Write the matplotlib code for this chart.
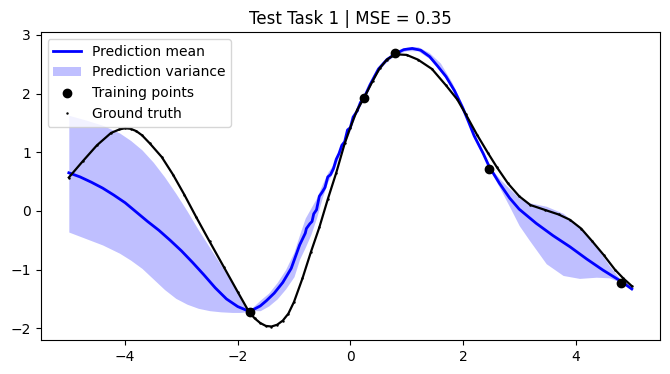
import numpy as np
import matplotlib
matplotlib.use('Agg')
import matplotlib.pyplot as plt

# ground truth curve
gt_x = [-5.0, -4.75, -4.5, -4.25, -4.1, -4.0, -3.9, -3.8, -3.7, -3.56, -3.35, -3.15, -2.95,
        -2.74, -2.5, -2.25, -2.0, -1.8, -1.7, -1.6, -1.5, -1.4, -1.3, -1.2, -1.1, -1.0,
        -0.85, -0.7, -0.55, -0.4, -0.25, -0.1, 0.0, 0.12, 0.24, 0.4, 0.52, 0.65, 0.8, 1.0,
        1.2, 1.45, 1.7, 1.9, 2.05, 2.25, 2.45, 2.6, 2.8, 3.0, 3.2, 3.45, 3.7, 3.9, 4.1,
        4.3, 4.5, 4.7, 4.85, 5.0]
gt_y = [0.57, 0.85, 1.12, 1.33, 1.39, 1.41, 1.40, 1.36, 1.29, 1.15, 0.92, 0.62, 0.28,
        -0.10, -0.52, -0.95, -1.38, -1.72, -1.83, -1.91, -1.96, -1.97, -1.94, -1.87, -1.75, -1.55,
        -1.15, -0.70, -0.28, 0.20, 0.65, 1.15, 1.42, 1.72, 1.92, 2.22, 2.43, 2.58, 2.67, 2.66,
        2.58, 2.42, 2.14, 1.90, 1.65, 1.30, 0.98, 0.75, 0.47, 0.25, 0.10, 0.02, -0.06, -0.15, -0.30,
        -0.52, -0.75, -1.00, -1.15, -1.28]

# prediction mean
m_x = [-5.0, -4.8, -4.6, -4.4, -4.2, -4.0, -3.8, -3.6, -3.4, -3.2, -3.0, -2.8, -2.6,
       -2.4, -2.2, -2.0, -1.85, -1.72, -1.6, -1.49, -1.35, -1.2, -1.05, -0.9, -0.8, -0.78,
       -0.72, -0.68, -0.65, -0.6, -0.55, -0.5, -0.45, -0.4, -0.35, -0.3, -0.25, -0.2,
       -0.15, -0.1, -0.05, 0.0, 0.05, 0.12, 0.18, 0.24, 0.35, 0.5, 0.65, 0.8, 0.95, 1.1,
       1.25, 1.41, 1.55, 1.7, 1.85, 2.0, 2.1, 2.2, 2.36, 2.47, 2.65, 2.83, 3.0, 3.3, 3.6,
       3.9, 4.2, 4.49, 4.81, 5.0]
m_y = [0.65, 0.58, 0.49, 0.39, 0.27, 0.14, -0.02, -0.18, -0.33, -0.50, -0.68, -0.88, -1.09,
       -1.31, -1.50, -1.63, -1.69, -1.68, -1.62, -1.53, -1.40, -1.22, -0.98, -0.58, -0.38, -0.30,
       -0.22, -0.18, -0.05, 0.02, 0.25, 0.32, 0.40, 0.58, 0.62, 0.72, 0.88, 0.98,
       1.12, 1.18, 1.38, 1.42, 1.60, 1.70, 1.85, 1.92, 2.15, 2.42, 2.58, 2.68, 2.75, 2.77,
       2.74, 2.63, 2.47, 2.29, 2.05, 1.75, 1.52, 1.28, 0.98, 0.75, 0.47, 0.22, 0.03, -0.21,
       -0.42, -0.61, -0.82, -1.01, -1.20, -1.33]

# prediction variance band
v_x = [-5.0, -4.7, -4.4, -4.1, -3.9, -3.7, -3.5, -3.3, -3.1, -2.9, -2.7, -2.5, -2.3,
       -2.1, -1.95, -1.85, -1.78, -1.6, -1.45, -1.3, -1.15, -1.0, -0.9, -0.8, -0.7, -0.6,
       -0.5, -0.4, -0.3, -0.2, -0.1, 0.0, 0.1, 0.24, 0.4, 0.6, 0.8, 1.0, 1.2, 1.4, 1.6,
       1.8, 2.0, 2.2, 2.47, 2.65, 2.83, 3.0, 3.18, 3.48, 3.78, 4.07, 4.37, 4.6, 4.81, 5.0]
v_lo = [-0.36, -0.47, -0.58, -0.72, -0.84, -0.98, -1.16, -1.34, -1.49, -1.59, -1.66, -1.70,
        -1.72, -1.73, -1.73, -1.72, -1.70, -1.70, -1.62, -1.50, -1.33, -1.12, -0.82, -0.62,
        -0.40, -0.12, 0.22, 0.50, 0.68, 0.94, 1.14, 1.38, 1.65, 1.90, 2.25, 2.50, 2.67,
        2.73, 2.73, 2.60, 2.40, 2.10, 1.72, 1.26, 0.72, 0.40, 0.07, -0.25, -0.50, -0.90,
        -1.10, -1.15, -1.13, -1.14, -1.22, -1.35]
v_hi = [1.63, 1.55, 1.46, 1.33, 1.20, 1.04, 0.83, 0.58, 0.30, 0.00, -0.32, -0.62, -0.92,
        -1.22, -1.48, -1.64, -1.68, -1.52, -1.40, -1.22, -1.00, -0.70, -0.40, -0.12, 0.05,
        0.22, 0.45, 0.66, 0.80, 1.04, 1.22, 1.48, 1.73, 1.94, 2.31, 2.56, 2.70, 2.79, 2.80,
        2.70, 2.52, 2.20, 1.80, 1.32, 0.76, 0.55, 0.38, 0.22, 0.14, 0.08, -0.04, -0.27,
        -0.61, -0.93, -1.18, -1.30]

# training points
train_x = [-1.79, 0.24, 0.79, 2.47, 4.81]
train_y = [-1.72, 1.92, 2.69, 0.72, -1.22]

fig = plt.figure(figsize=(6.7, 3.74), dpi=100)
ax = fig.add_axes([0.0607, 0.0909, 0.9243, 0.8235])

ax.plot(m_x, m_y, color='blue', lw=2, label='Prediction mean')
ax.fill_between(v_x, v_lo, v_hi, color='blue', alpha=0.25, lw=0, label='Prediction variance')
ax.plot(train_x, train_y, 'ko', ms=6, label='Training points', zorder=4)
ax.plot(gt_x, gt_y, color='k', lw=1.6, zorder=3)
ax.plot(gt_x, gt_y, 'k.', ms=1.5, label='Ground truth', zorder=3)

ax.set_xlim(-5.5, 5.5)
ax.set_ylim(-2.2, 3.05)
ax.set_title('Test Task 1 | MSE = 0.35')
ax.legend(loc='upper left')

fig.savefig('out.png', dpi=100)
